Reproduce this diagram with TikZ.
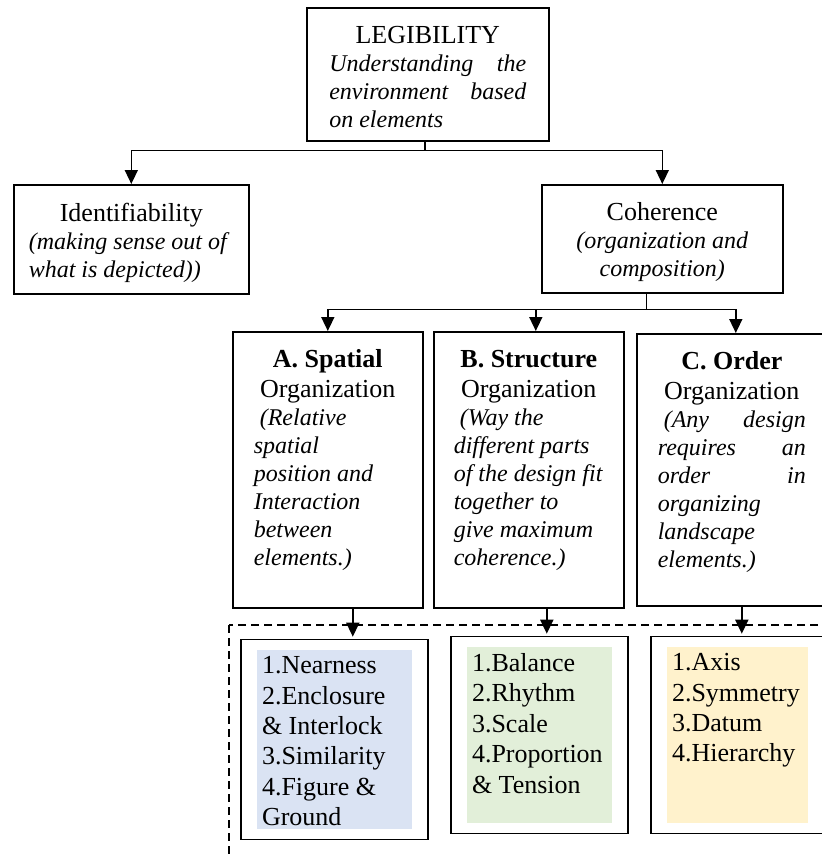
\documentclass[tikz,border=0pt]{standalone}
\usepackage{fontspec}
\setmainfont{Liberation Serif}
\usetikzlibrary{arrows.meta,fit}
\definecolor{spatialfill}{HTML}{DAE3F3}
\definecolor{structfill}{HTML}{E2EFD9}
\definecolor{orderfill}{HTML}{FFF2CC}
\newcommand{\boxhead}{\fontsize{26pt}{30pt}\selectfont}
\newcommand{\boxnote}{\fontsize{24pt}{28pt}\selectfont\itshape}
\newcommand{\listtext}{\fontsize{26pt}{30.4pt}\selectfont}
\setlength{\parskip}{0pt}

\begin{document}
\begin{tikzpicture}[x=1pt, y=-1pt,
  box/.style={draw, line width=1.6pt, inner ysep=18pt, anchor=north west},
  listfill/.style={fill=#1, inner xsep=5pt, inner ysep=6.5pt, outer sep=0pt, anchor=north west},
  listframe/.style={draw, line width=1.6pt, inner xsep=16pt, inner ysep=10.5pt},
  link/.style={line width=1.6pt},
  arr/.style={link, -{Triangle[length=14pt, width=13pt]}},
  dashline/.style={line width=1.3pt, dash pattern=on 8pt off 5pt}]

  \fill[white] (0,0) rectangle (822,857);
  \useasboundingbox (0,0) rectangle (822,857);
  \clip (0,0) rectangle (822,857);

  % top level
  \node[box, inner xsep=22.5pt] (legib) at (306,7) {
    \begin{minipage}[c][97pt][t]{197pt}
      {\centering\boxhead LEGIBILITY\par}
      {\boxnote Understanding\hfill the\\ environment\hfill based\\ on elements\par}
    \end{minipage}
  };

  % second level
  \node[box, inner xsep=15pt] (ident) at (13,184) {
    \begin{minipage}[c][73pt][t]{205pt}
      {\centering\boxhead Identifiability\par}
      {\boxnote\raggedright (making sense out of\\ what is depicted))\par}
    \end{minipage}
  };
  \node[box, inner xsep=15pt] (coh) at (541,184) {
    \begin{minipage}[c][72pt][t]{211pt}
      \centering
      {\boxhead Coherence\par}
      {\boxnote (organization and\\ composition)\par}
    \end{minipage}
  };

  % third level
  \node[box, inner xsep=21pt] (orgA) at (232,331) {
    \begin{minipage}[c][240pt][t]{148pt}
      {\centering\boxhead\textbf{A. Spatial}\par Organization\par}
      {\boxnote\raggedright\hspace*{6pt}(Relative\\ spatial\\ position and\\
        Interaction\\ between\\ elements.)\par}
    \end{minipage}
  };
  \node[box, inner xsep=20pt] (orgB) at (433,331) {
    \begin{minipage}[c][240pt][t]{150pt}
      {\centering\boxhead\textbf{B. Structure}\par Organization\par}
      {\boxnote\raggedright\hspace*{6pt}(Way the\\ different parts\\ of the design fit\\
        together to\\ give maximum\\ coherence.)\par}
    \end{minipage}
  };
  \node[box, inner xsep=21pt] (orgC) at (636,333) {
    \begin{minipage}[c][236pt][t]{148pt}
      {\centering\boxhead\textbf{C. Order}\par Organization\par}
      {\boxnote\hspace*{6pt}(Any\hfill design\\ requires\hfill an\\ order\hfill in\\
        organizing\\ landscape\\ elements.)\par}
    \end{minipage}
  };

  % principles
  \draw[dashline] (229,625) rectangle (860,880);

  \node[listfill=spatialfill] (listA) at (257,650) {
    \begin{minipage}[c][166pt][t]{145pt}
      \listtext 1.Nearness\\ 2.Enclosure\\ \& Interlock\\ 3.Similarity\\ 4.Figure \&\\ Ground
    \end{minipage}
  };
  \node[listfill=structfill] (listB) at (467,647) {
    \begin{minipage}[c][163pt][t]{135pt}
      \listtext 1.Balance\\ 2.Rhythm\\ 3.Scale\\ 4.Proportion\\ \& Tension
    \end{minipage}
  };
  \node[listfill=orderfill] (listC) at (667,647) {
    \begin{minipage}[c][163pt][t]{131pt}
      \listtext 1.Axis\\ 2.Symmetry\\ 3.Datum\\ 4.Hierarchy
    \end{minipage}
  };
  \node[listframe, fit=(listA)] (frameA) {};
  \node[listframe, fit=(listB)] (frameB) {};
  \node[listframe, fit=(listC)] (frameC) {};

  % connectors
  \draw[arr] ([xshift=-3pt]legib.south) -- ++(0,9) -| (ident.north);
  \draw[arr] ([xshift=-3pt]legib.south) -- ++(0,9) -| (coh.north);
  \draw[arr] ([xshift=-16pt]coh.south) -- ++(0,16) -| (orgA.north);
  \draw[arr] ([xshift=-16pt]coh.south) -- ++(0,16) -| ([xshift=7pt]orgB.north);
  \draw[arr] ([xshift=-16pt]coh.south) -- ++(0,16) -| ([xshift=4pt]orgC.north);
  \draw[arr, shorten >=2pt] ([xshift=25pt]orgA.south) -- ([xshift=25pt]orgA.south |- frameA.north);
  \draw[arr, shorten >=2pt] ([xshift=18pt]orgB.south) -- ([xshift=18pt]orgB.south |- frameB.north);
  \draw[arr, shorten >=2pt] ([xshift=10pt]orgC.south) -- ([xshift=10pt]orgC.south |- frameC.north);
\end{tikzpicture}
\end{document}
